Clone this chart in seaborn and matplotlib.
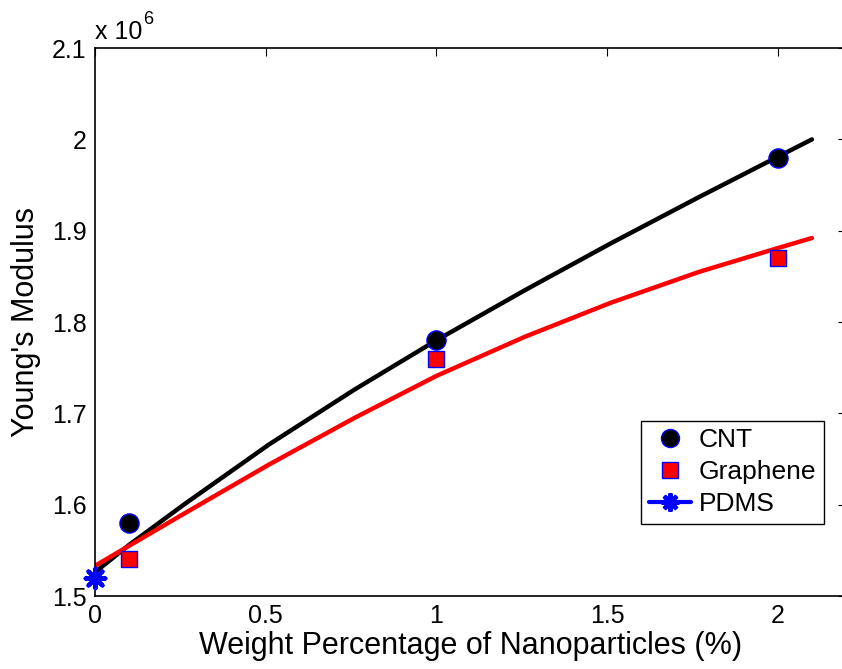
import matplotlib
matplotlib.use("Agg")
import matplotlib.pyplot as plt
from matplotlib.lines import Line2D
from matplotlib.ticker import FuncFormatter
import seaborn as sns
import pandas as pd

# Measured Young's modulus (Pa) vs. nanoparticle loading (wt %)
cnt_wt = [0.1, 1.0, 2.0]
cnt_modulus = [1.58e6, 1.78e6, 1.98e6]
graphene_wt = [0.1, 1.0, 2.0]
graphene_modulus = [1.54e6, 1.76e6, 1.87e6]
pdms_wt = [0.0]
pdms_modulus = [1.52e6]

# Fitted trend curves (Pa)
fit_wt = [0.0, 0.1, 0.26, 0.51, 0.76, 1.0, 1.26, 1.51, 1.77, 2.0, 2.1]
cnt_fit = [1.526e6, 1.556e6, 1.600e6, 1.666e6, 1.726e6, 1.780e6,
           1.835e6, 1.886e6, 1.937e6, 1.981e6, 2.000e6]
graphene_fit = [1.533e6, 1.555e6, 1.590e6, 1.644e6, 1.695e6, 1.741e6,
                1.784e6, 1.821e6, 1.855e6, 1.881e6, 1.892e6]

x_ticks = [0, 0.5, 1, 1.5, 2]
y_ticks = [1.5e6, 1.6e6, 1.7e6, 1.8e6, 1.9e6, 2.0e6, 2.1e6]

sns.set_theme(style="white")
plt.rcParams["font.family"] = ["Liberation Sans", "DejaVu Sans"]
plt.rcParams.update({"text.color": "black", "axes.labelcolor": "black",
                     "xtick.color": "black", "ytick.color": "black"})

fig = plt.figure(figsize=(8.42, 6.69), dpi=100)
ax = fig.add_axes([0.1128, 0.1091, 0.892, 0.819])

fits = pd.DataFrame({"wt": fit_wt, "cnt": cnt_fit, "gr": graphene_fit})
sns.lineplot(data=fits, x="wt", y="cnt", color="black", lw=3.2, ax=ax,
             legend=False, sort=False, zorder=2)
sns.lineplot(data=fits, x="wt", y="gr", color="red", lw=3.2, ax=ax,
             legend=False, sort=False, zorder=2)

sns.scatterplot(x=cnt_wt, y=cnt_modulus, marker="o", s=190, color="black",
                edgecolor="blue", linewidth=1.0, ax=ax, zorder=3)
sns.scatterplot(x=graphene_wt, y=graphene_modulus, marker="s", s=130,
                color="red", edgecolor="blue", linewidth=1.0, ax=ax, zorder=3)
sns.scatterplot(x=pdms_wt, y=pdms_modulus, marker=(8, 2, 0), s=200,
                color="blue", edgecolor="blue", linewidth=3, ax=ax, zorder=4,
                clip_on=False)

ax.set_xlim(0, 2.2)
ax.set_ylim(1.5e6, 2.1e6)
ax.set_xticks(x_ticks)
ax.set_yticks(y_ticks)
ax.xaxis.set_major_formatter(FuncFormatter(lambda v, p: f"{v:g}"))
ax.yaxis.set_major_formatter(FuncFormatter(lambda v, p: f"{v / 1e6:g}"))
ax.tick_params(direction="in", length=6, width=0.8, color="black",
               labelcolor="black", labelsize=18, top=True, right=True, pad=6)
for s in ax.spines.values():
    s.set_color("black")
    s.set_linewidth(1.2)

ax.set_xlabel("Weight Percentage of Nanoparticles (%)", fontsize=22, labelpad=2)
ax.set_ylabel("Young's Modulus", fontsize=22, labelpad=8)

ax.text(0.0, 1.008, "x 10", transform=ax.transAxes, fontsize=18,
        ha="left", va="bottom")
ax.text(0.064, 1.036, "6", transform=ax.transAxes, fontsize=13,
        ha="left", va="bottom")

handles = [
    Line2D([], [], ls="none", marker="o", markersize=13, markerfacecolor="black",
           markeredgecolor="blue", markeredgewidth=1.0),
    Line2D([], [], ls="none", marker="s", markersize=11, markerfacecolor="red",
           markeredgecolor="blue", markeredgewidth=1.0),
    Line2D([], [], ls="-", color="blue", lw=3, marker=(8, 2, 0), markersize=13,
           markeredgewidth=3),
]
leg = ax.legend(handles, ["CNT", "Graphene", "PDMS"], loc="lower right",
                bbox_to_anchor=(0.971, 0.131), fontsize=19, frameon=True,
                fancybox=False, framealpha=1, edgecolor="black",
                handlelength=1.6, handletextpad=0.3, borderpad=0.3,
                labelspacing=0.3, borderaxespad=0)
leg.get_frame().set_linewidth(1.0)

fig.savefig("out.png", dpi=100)
